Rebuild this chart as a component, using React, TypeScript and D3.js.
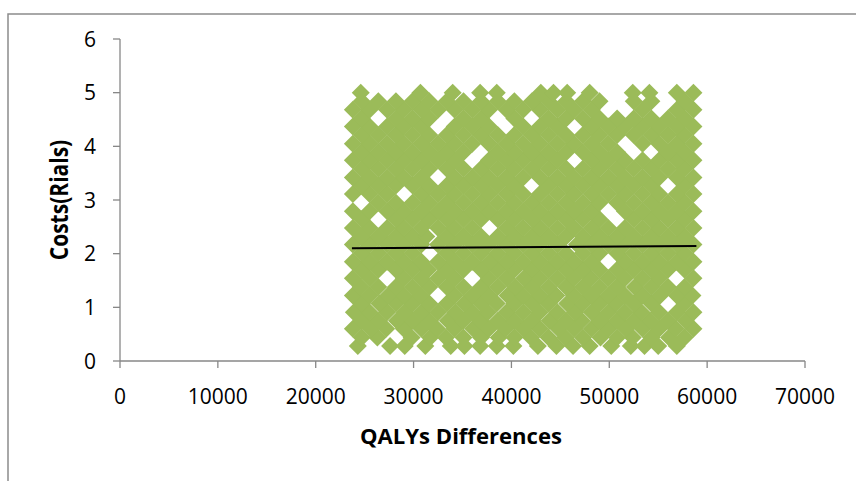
import React from 'react';
import * as d3 from 'd3';

// Axis ticks
const xTicks = [0, 10000, 20000, 30000, 40000, 50000, 60000, 70000];
const yTicks = [0, 1, 2, 3, 4, 5, 6];

// Cost (Rials) level of each row of simulated points, bottom to top
const costLevels = [
  0.28, 0.44, 0.6, 0.75, 0.91, 1.07, 1.22, 1.38, 1.54, 1.7, 1.85, 2.01, 2.17, 2.32, 2.48, 2.64,
  2.79, 2.95, 3.11, 3.27, 3.42, 3.58, 3.74, 3.89, 4.05, 4.21, 4.37, 4.52, 4.68, 4.84, 5.0,
];

// QALY differences of the points in each row (thousands)
const qalyRowsK = [
  [24.3, 27.6, 29.1, 31.2, 33.8, 35.2, 36.8, 38.5, 40.2, 42.7, 44.6, 46.3, 48.0, 50.2, 52.2, 53.6, 55.0, 56.9],
  [24.7, 26.3, 29.8, 31.7, 33.3, 35.1, 36.9, 38.7, 40.3, 42.0, 43.8, 45.5, 47.3, 49.1, 50.8, 52.4, 54.3, 56.1, 57.7],
  [23.8, 25.6, 27.2, 29.0, 30.8, 32.4, 34.2, 36.1, 37.7, 39.4, 41.2, 42.9, 44.8, 46.4, 48.2, 49.9, 51.7, 53.4, 55.1, 56.8, 58.6],
  [24.7, 26.4, 28.3, 29.9, 31.6, 33.5, 35.1, 36.8, 38.6, 40.3, 42.1, 43.9, 45.6, 47.2, 49.0, 50.8, 52.5, 54.2, 56.0, 57.8],
  [23.9, 25.5, 27.3, 29.1, 30.8, 32.5, 34.3, 36.0, 37.6, 39.5, 41.2, 42.9, 44.7, 46.5, 48.2, 49.9, 51.6, 53.3, 55.1, 56.9, 58.6],
  [24.7, 26.5, 28.2, 29.9, 31.6, 33.4, 35.2, 36.9, 38.5, 40.3, 42.1, 43.8, 45.7, 47.3, 49.0, 50.7, 52.5, 54.3, 57.7],
  [23.8, 25.5, 27.4, 29.0, 30.7, 34.2, 36.0, 37.7, 39.6, 41.2, 42.9, 44.6, 46.4, 48.2, 49.9, 51.6, 53.4, 55.2, 56.9, 58.5],
  [24.6, 26.4, 28.2, 29.9, 31.6, 33.4, 35.1, 36.9, 38.6, 40.4, 42.1, 43.8, 45.6, 47.3, 49.0, 50.8, 52.6, 54.3, 56.0, 57.7],
  [23.8, 25.5, 29.0, 30.8, 32.5, 34.2, 37.7, 39.5, 41.3, 42.9, 44.7, 46.4, 48.1, 49.9, 51.6, 53.4, 55.1, 58.6],
  [24.7, 26.4, 28.2, 29.9, 31.5, 33.4, 35.1, 36.9, 38.6, 40.3, 42.1, 43.8, 45.6, 47.3, 49.0, 50.8, 52.5, 54.3, 56.0, 57.7],
  [23.8, 25.5, 27.3, 29.0, 30.8, 32.5, 34.2, 36.0, 37.8, 39.5, 41.2, 42.9, 44.7, 46.4, 48.2, 51.6, 53.4, 55.1, 56.9, 58.6],
  [24.7, 26.4, 28.2, 29.9, 33.4, 35.1, 36.9, 38.6, 40.3, 42.1, 43.8, 45.6, 47.3, 49.0, 50.8, 52.5, 54.3, 56.0, 57.7],
  [23.8, 25.5, 27.3, 29.0, 30.8, 32.5, 34.2, 36.0, 37.7, 39.5, 41.2, 42.9, 44.7, 46.7, 48.2, 49.9, 51.6, 53.4, 55.1, 56.9, 58.6],
  [24.7, 26.4, 28.2, 29.9, 31.3, 33.4, 35.1, 36.9, 38.6, 40.3, 42.1, 43.8, 45.6, 47.3, 49.0, 50.8, 52.5, 54.3, 56.0, 57.7],
  [23.8, 25.5, 27.3, 29.0, 30.8, 32.5, 34.2, 36.0, 39.5, 41.2, 42.9, 44.7, 46.4, 48.2, 49.9, 51.6, 53.4, 55.1, 56.9, 58.6],
  [24.7, 28.2, 29.9, 31.6, 33.4, 35.1, 36.9, 38.6, 40.3, 42.1, 43.8, 45.6, 47.3, 49.0, 52.5, 54.3, 56.0, 57.7],
  [23.8, 25.5, 27.3, 29.0, 30.8, 32.5, 34.2, 36.0, 37.7, 39.5, 41.2, 42.9, 44.7, 46.4, 48.2, 51.6, 53.4, 55.1, 56.9, 58.6],
  [26.4, 28.2, 29.9, 31.6, 33.4, 35.1, 36.9, 38.6, 40.3, 42.1, 43.8, 45.6, 47.3, 49.0, 50.8, 52.5, 54.3, 56.0, 57.7],
  [23.8, 25.5, 27.3, 30.8, 32.5, 34.2, 36.0, 37.7, 39.5, 41.2, 42.9, 44.7, 46.4, 48.2, 49.9, 51.6, 53.4, 55.1, 56.9, 58.6],
  [24.7, 26.4, 28.2, 29.9, 31.6, 33.4, 35.1, 36.9, 38.6, 40.3, 43.8, 45.6, 47.3, 49.0, 50.8, 52.5, 54.3, 57.7],
  [23.8, 25.5, 27.3, 29.0, 30.8, 34.2, 36.0, 37.7, 39.5, 41.2, 42.9, 44.7, 46.4, 48.2, 49.9, 51.6, 53.4, 55.1, 56.9, 58.6],
  [24.7, 26.4, 28.2, 29.9, 31.6, 33.4, 35.1, 36.9, 38.6, 40.3, 42.1, 43.8, 45.6, 47.3, 49.0, 50.8, 52.5, 54.3, 56.0, 57.7],
  [23.8, 25.5, 27.3, 29.0, 30.8, 32.5, 34.2, 37.7, 39.5, 41.2, 42.9, 44.7, 48.2, 49.9, 51.6, 53.4, 55.1, 56.9, 58.6],
  [24.7, 26.4, 28.2, 29.9, 31.6, 33.4, 35.1, 38.6, 40.3, 42.1, 43.8, 45.6, 47.3, 49.0, 50.8, 56.0, 57.7],
  [23.8, 25.5, 27.3, 29.0, 30.8, 32.5, 34.2, 36.0, 37.7, 39.5, 41.2, 42.9, 44.7, 46.4, 48.2, 49.9, 53.4, 55.1, 56.9, 58.6],
  [24.7, 26.4, 28.2, 29.9, 31.6, 33.4, 35.1, 36.9, 38.6, 40.3, 42.1, 43.8, 45.6, 47.3, 49.0, 50.8, 52.5, 54.3, 56.0, 57.7],
  [23.8, 25.5, 27.3, 29.0, 30.8, 34.2, 36.0, 37.7, 41.2, 42.9, 44.7, 48.2, 49.9, 51.6, 53.4, 55.1, 56.9, 58.6],
  [24.7, 28.2, 29.9, 31.6, 35.1, 36.9, 40.3, 43.8, 45.6, 47.3, 49.0, 50.8, 52.5, 54.3, 56.0, 57.7],
  [23.8, 25.5, 27.3, 29.0, 30.8, 32.5, 34.2, 36.0, 37.7, 39.5, 41.2, 42.9, 44.7, 46.4, 48.2, 53.4, 56.9, 58.6],
  [24.7, 26.4, 28.2, 29.9, 31.6, 33.4, 35.1, 36.9, 38.6, 40.3, 42.1, 43.8, 45.6, 47.3, 49.0, 52.5, 54.3, 57.7],
  [24.6, 30.7, 34.0, 36.8, 38.5, 43.0, 44.3, 45.7, 48.0, 52.4, 54.1, 56.9, 58.6],
];

// Linear trend line end points
const trendQaly = [23700, 58900];
const trendCost = [2.1, 2.145];

const W = 856;
const H = 481;

export default function App() {
  const x = d3.scaleLinear().domain([0, 70000]).range([120, 805]);
  const y = d3.scaleLinear().domain([0, 6]).range([361, 39]);

  const points: { q: number; c: number }[] = [];
  costLevels.forEach((c, i) => {
    qalyRowsK[i].forEach((qk) => points.push({ q: qk * 1000, c }));
  });

  const diamond = d3.symbol().type(d3.symbolSquare).size(162)()!;
  const trend = d3
    .line<number>()
    .x((_, i) => x(trendQaly[i]))
    .y((d) => y(d))(trendCost)!;

  const axisColor = '#878787';
  const font = "'Open Sans', 'Liberation Sans', sans-serif";

  return (
    <svg
      width={W}
      height={H}
      style={{ position: 'absolute', left: 0, top: 0, background: '#fff' }}
    >
      <rect x={0} y={0} width={W} height={H} fill="#fff" />
      {/* chart area border */}
      <rect x={8} y={14} width={W + 20} height={H + 20} fill="none" stroke="#8c8c8c" strokeWidth={1.5} />

      {/* points */}
      <g fill="#9BBB59">
        {points.map((p, i) => (
          <path key={i} d={diamond} transform={`translate(${x(p.q)},${y(p.c)}) rotate(45)`} />
        ))}
      </g>

      {/* trend line */}
      <path d={trend} fill="none" stroke="#000" strokeWidth={2} />

      {/* y axis */}
      <line x1={x(0)} x2={x(0)} y1={y(0)} y2={y(6)} stroke={axisColor} strokeWidth={1.3} />
      {yTicks.map((t) => (
        <g key={`y${t}`}>
          <line x1={x(0) - 7} x2={x(0)} y1={y(t)} y2={y(t)} stroke={axisColor} strokeWidth={1.3} />
          <text
            x={96}
            y={y(t)}
            dy="0.36em"
            textAnchor="end"
            fontFamily={font}
            fontSize={21}
            fill="#000"
          >
            {t}
          </text>
        </g>
      ))}

      {/* x axis */}
      <line x1={x(0)} x2={x(70000)} y1={y(0)} y2={y(0)} stroke={axisColor} strokeWidth={1.3} />
      {xTicks.map((t) => (
        <g key={`x${t}`}>
          <line x1={x(t)} x2={x(t)} y1={y(0)} y2={y(0) + 7} stroke={axisColor} strokeWidth={1.3} />
          <text
            x={x(t)}
            y={404}
            textAnchor="middle"
            fontFamily={font}
            fontSize={21}
            fill="#000"
          >
            {t}
          </text>
        </g>
      ))}

      {/* axis titles */}
      <text
        x={461}
        y={444}
        textAnchor="middle"
        fontFamily={font}
        fontWeight="bold"
        fontSize={21}
        textLength={202}
        lengthAdjust="spacingAndGlyphs"
        fill="#000"
      >
        QALYs Differences
      </text>
      <text
        transform={`translate(68,200) scale(1.2,1) rotate(-90)`}
        textAnchor="middle"
        fontFamily={font}
        fontWeight="bold"
        fontSize={21}
        fill="#000"
      >
        Costs(Rials)
      </text>
    </svg>
  );
}
